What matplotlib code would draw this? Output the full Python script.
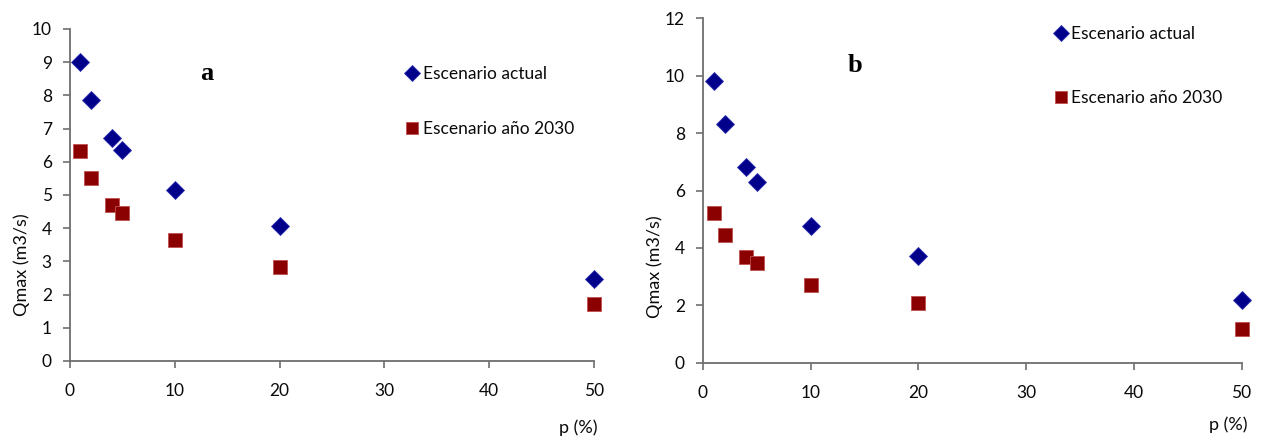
import matplotlib.pyplot as plt

# return periods p (%)
p = [1, 2, 4, 5, 10, 20, 50]

# panel a
qa_actual = [9.02, 7.87, 6.73, 6.36, 5.16, 4.06, 2.47]
qa_2030 = [6.31, 5.52, 4.70, 4.47, 3.63, 2.84, 1.72]

# panel b
qb_actual = [9.82, 8.31, 6.83, 6.31, 4.78, 3.71, 2.20]
qb_2030 = [5.20, 4.45, 3.70, 3.46, 2.72, 2.07, 1.17]

labels = ["Escenario actual", "Escenario año 2030"]
blue = "#00008b"
red = "#8b0000"
axcol = "#6e6e6e"
txt = "#0a0a0a"

plt.rcParams['font.family'] = ['Lato', 'DejaVu Sans']

fig = plt.figure(figsize=(12.63, 4.42), dpi=100)
ax1 = fig.add_axes([0.0554, 0.1833, 0.4149, 0.7511])
ax2 = fig.add_axes([0.5566, 0.1794, 0.4264, 0.7792])


def style(ax, ymax, ystep):
    ax.set_xlim(0, 50)
    ax.set_ylim(0, ymax)
    ax.set_xticks(range(0, 51, 10))
    ax.set_yticks(range(0, ymax + 1, ystep))
    for s in ['top', 'right']:
        ax.spines[s].set_visible(False)
    for s in ['left', 'bottom']:
        ax.spines[s].set_color(axcol)
        ax.spines[s].set_linewidth(1.3)
    ax.tick_params(axis='both', direction='out', length=5, width=1.2,
                   color=axcol, labelsize=12.5, labelcolor=txt)
    ax.tick_params(axis='x', pad=11)
    ax.tick_params(axis='y', pad=8)


def draw(ax, q1, q2, anchor, spacing):
    ax.plot(p, q1, linestyle='none', marker='D', markersize=9,
            color=blue, markeredgecolor='#3030b0', markeredgewidth=0.6,
            clip_on=False, label=labels[0])
    ax.plot(p, q2, linestyle='none', marker='s', markersize=10.5,
            color=red, markeredgecolor='#c05050', markeredgewidth=0.6,
            clip_on=False, label=labels[1])
    leg = ax.legend(loc='upper left', bbox_to_anchor=anchor, frameon=False,
                    fontsize=12.5, borderpad=0, borderaxespad=0,
                    handlelength=0.8, handletextpad=0.2,
                    labelspacing=spacing, markerscale=0.85)
    for t in leg.get_texts():
        t.set_color(txt)


style(ax1, 10, 1)
draw(ax1, qa_actual, qa_2030, (0.64, 0.888), 2.25)

style(ax2, 12, 2)
draw(ax2, qb_actual, qb_2030, (0.651, 0.978), 2.75)

fig.text(207 / 1263, 1 - 73 / 442, "a", family='Liberation Serif',
         fontweight='bold', fontsize=19, ha='center', va='center')
fig.text(855 / 1263, 1 - 66 / 442, "b", family='Liberation Serif',
         fontweight='bold', fontsize=19, ha='center', va='center')

fig.text(22 / 1263, 1 - 265 / 442, "Qmax (m3/s)", rotation=90,
         fontsize=13, ha='center', va='center', color=txt)
fig.text(655 / 1263, 1 - 267 / 442, "Qmax (m3/s)", rotation=90,
         fontsize=13, ha='center', va='center', color=txt)

fig.text(578 / 1263, 1 - 428 / 442, "p (%)", fontsize=13,
         ha='center', va='center', color=txt)
fig.text(1228 / 1263, 1 - 425 / 442, "p (%)", fontsize=13,
         ha='center', va='center', color=txt)

fig.savefig("out.png", dpi=100)
